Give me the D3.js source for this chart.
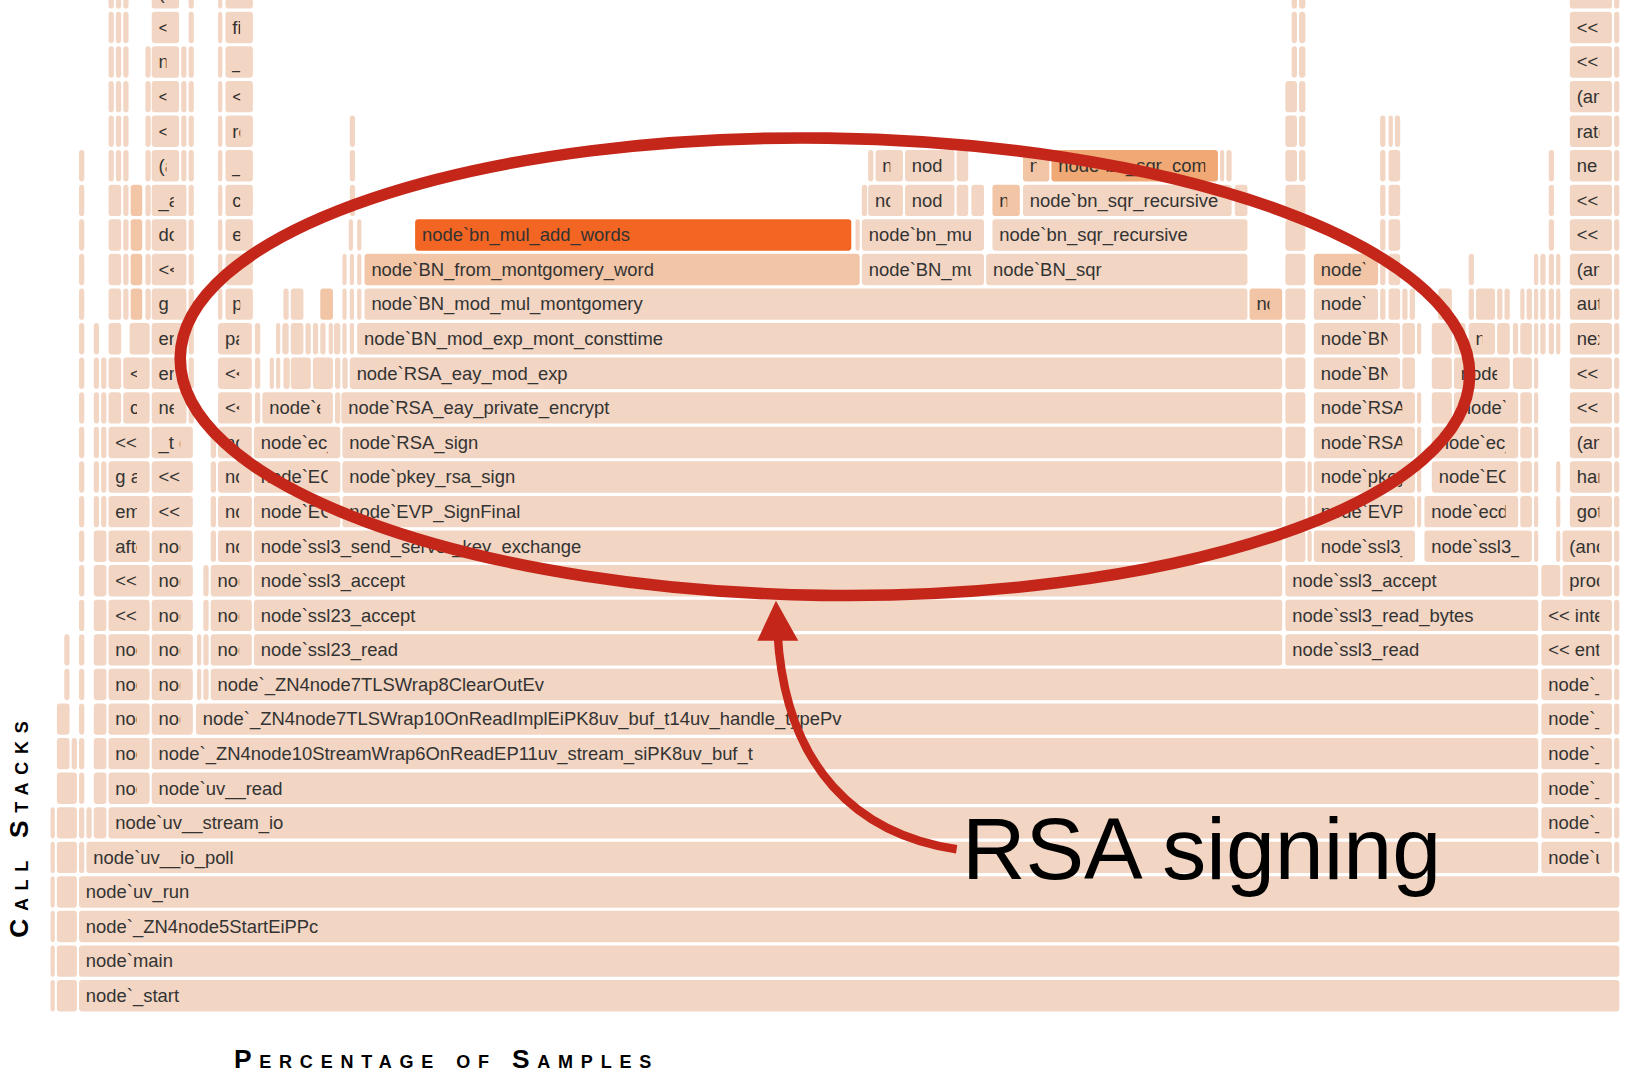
<!DOCTYPE html>
<html><head><meta charset="utf-8">
<script src="https://cdn.jsdelivr.net/npm/d3@7"></script>
<style>html,body{margin:0;padding:0;background:#fff;overflow:hidden}</style>
</head><body>
<script>
// Flame graph data: each level is one stack depth; entries are [function name, first sample, sample count, heat]
const TOTAL_SAMPLES = 1490;
const level0 = [["",1,4],["",7,19],["node`_start",28,1462]];
const level1 = [["",1,4],["",7,19],["node`main",28,1462]];
const level2 = [["",1,4],["",7,19],["node`_ZN4node5StartEiPPc",28,1462]];
const level3 = [["",1,4],["",7,19],["node`uv_run",28,1462]];
const level4 = [["",1,4],["",7,19],["",28,5],["node`uv__io_poll",35,1378],["node`uv__run_timers",1416,67],["",1485,5]];
const level5 = [["",1,4],["",7,19],["",28,5],["",35,5],["",42,12],["node`uv__stream_io",56,1357],["node`_ZN4node6TimerWrap9OnTimeout",1416,67],["",1485,5]];
const level6 = [["",7,19],["",28,5],["",42,12],["node`uv__write",56,39],["node`uv__read",97,1316],["node`_ZN4node12MakeCallback",1416,67],["",1485,5]];
const level7 = [["",7,12],["",21,5],["",28,5],["",42,12],["node`uv__write_req",56,39],["node`_ZN4node10StreamWrap6OnReadEP11uv_stream_siPK8uv_buf_t",97,1316],["node`_ZN2v88internal",1416,67],["",1485,5]];
const level8 = [["",7,12],["",28,5],["",42,12],["node`uv_try_write",56,39],["node`_ZN4node10StreamWrap",97,39],["node`_ZN4node7TLSWrap10OnReadImplEiPK8uv_buf_t14uv_handle_typePv",139,1274],["node`_ZN2v88internal9Execution",1416,67],["",1485,5]];
const level9 = [["",14,5],["",28,5],["",42,12],["node`uv_write2",56,39],["node`_ZN4node7TLSWrap",97,39],["",140,4],["",146,5],["node`_ZN4node7TLSWrap8ClearOutEv",153,1260],["node`_ZN2v88internal6Invoke",1416,67],["",1485,5]];
const level10 = [["",14,5],["",28,5],["",42,12],["node`uv__io_start",56,39],["node`_ZN4node7TLSWrap7ClearIn",97,39],["",140,4],["",146,5],["node`SSL_read",153,39],["node`ssl23_read",194,976],["node`ssl3_read",1173,240],["<< entry >>",1416,67],["",1485,5]];
const level11 = [["",28,5],["",42,12],["<< interpreted >>",56,39],["node`SSL_write",97,39],["",146,5],["node`ssl23_get_client_hello",153,39],["node`ssl23_accept",194,976],["node`ssl3_read_bytes",1173,240],["<< interpreted >>",1416,67],["",1485,5]];
const level12 = [["",28,5],["",42,12],["<< interpreted >>",56,39],["node`ssl3_write",97,39],["",146,5],["node`ssl3_accept",153,39],["node`ssl3_accept",194,976],["node`ssl3_accept",1173,240],["",1416,18],["process._tickCallback",1436,47],["",1485,5]];
const level13 = [["",28,5],["",42,12],["afterWrite",56,39],["node`ssl3_write_bytes",97,39],["",153,5],["node`ssl3_get_client_hello",160,32],["node`ssl3_send_server_key_exchange",194,976],["",1173,19],["",1194,4],["node`ssl3_get_client_key_exchange",1200,96],["node`ssl3_send_server_hello",1305,102],["",1409,4],["",1430,4],["(anonymous function)",1436,47],["",1485,5]];
const level14 = [["",28,5],["",42,5],["",49,5],["emit",56,39],["<< adaptor >>",97,39],["",153,5],["node`ssl3_choose_cipher",160,32],["node`ECDH_compute_key",194,82],["node`EVP_SignFinal",278,892],["",1173,19],["",1194,4],["node`EVP_PKEY_sign",1200,96],["",1298,4],["node`ecdh_compute_key",1305,89],["",1396,11],["",1409,4],["",1430,4],["goto",1443,40],["",1485,5]];
const level15 = [["",28,5],["",42,5],["",49,5],["g addListener",56,39],["<< adaptor >>",97,39],["",153,5],["node`ssl_get_new_session",160,32],["node`EC_POINT_mul",194,82],["node`pkey_rsa_sign",278,892],["",1173,19],["",1194,4],["node`pkey_rsa_sign",1200,96],["",1298,4],["node`EC_POINT_mul",1312,82],["",1396,11],["",1409,4],["",1430,4],["handshake",1443,40],["",1485,5]];
const level16 = [["",28,5],["",42,5],["",49,5],["<< adaptor >>",56,39],["_t onread",97,39],["",153,5],["node`ssl_session_dup",160,32],["node`ec_wNAF_mul",194,82],["node`RSA_sign",278,892],["",1173,19],["node`RSA_sign",1200,96],["",1298,4],["node`ec_wNAF_mul",1312,82],["",1396,11],["",1409,4],["(anonymous function)",1443,40],["",1485,5]];
const level17 = [["",28,5],["",42,5],["",49,5],["",56,12],["call",70,25],["nextTick",97,33],["",132,5],["<< adaptor >>",160,32],["",195,5],["node`ec_GFp_mont_field_mul",202,67],["",271,5],["node`RSA_eay_private_encrypt",277,893],["",1173,19],["node`RSA_eay_private_encrypt",1200,96],["",1298,4],["",1312,19],["node`ec_GFp_simple_dbl",1333,61],["",1396,11],["",1409,4],["<< adaptor >>",1443,40],["",1485,5]];
const level18 = [["",28,5],["",42,5],["",49,5],["",56,12],["<< adaptor >>",70,25],["error",97,33],["",132,5],["<< adaptor >>",160,32],["",195,5],["",209,4],["",215,4],["",222,6],["",229,19],["",250,19],["",271,5],["",278,5],["node`RSA_eay_mod_exp",285,885],["",1173,19],["node`BN_mod_exp_mont",1200,82],["",1284,12],["",1312,19],["node`ec_GFp_mont_field_sqr",1333,53],["",1389,18],["",1409,4],["<< adaptor >>",1443,40],["",1485,5]];
const level19 = [["",28,5],["",42,5],["",56,12],["",76,19],["error",97,33],["",132,5],["parse",160,32],["",195,5],["",215,4],["",221,6],["",229,12],["",243,5],["",250,5],["",257,5],["",265,4],["",270,6],["",278,4],["",285,4],["node`BN_mod_exp_mont_consttime",292,878],["",1173,19],["node`BN_mod_mul_montgomery",1200,82],["",1284,12],["",1298,4],["",1312,19],["",1333,11],["node`bn_mul_mont",1347,25],["",1374,12],["",1389,5],["",1396,11],["",1409,4],["",1415,5],["",1423,5],["",1430,4],["nextTick",1443,40],["",1485,5]];
const level20 = [["",28,5],["",56,12],["",70,5],["",77,11,1],["",91,5],["g onread",97,33],["",132,5],["",160,4],["push",167,26],["",222,5],["",229,12],["",257,12,1],["",278,4],["",285,4],["",292,4],["node`BN_mod_mul_montgomery",299,838],["node`bn_mul_mont",1139,31,1],["",1173,19],["node`BN_mul",1200,61],["",1263,5],["",1271,11],["",1284,5],["",1291,5],["",1318,13],["",1347,5],["",1354,18],["",1374,5],["",1381,5],["",1396,4],["",1402,5],["",1409,4],["",1415,5],["",1423,5],["",1430,4],["authorize",1443,40],["",1485,5]];
const level21 = [["",28,5],["",56,12],["",70,5],["",77,11,1],["",91,5],["<< adaptor >>",97,33],["",132,5],["",160,4],["",167,26],["",278,4],["",285,4],["",292,4],["node`BN_from_montgomery_word",299,470,1],["node`BN_mul",771,116],["node`BN_sqr",889,248],["",1173,19],["node`bn_mul_recursive",1200,61,1],["",1263,5],["",1271,11],["",1347,5],["",1409,4],["",1415,5],["",1423,5],["",1430,4],["(anonymous function)",1443,40],["",1485,5]];
const level22 = [["",28,5],["",56,12],["",70,5],["",77,11,1],["",91,5],["doWrite",97,33],["",132,5],["",160,4],["emit",167,26],["",284,4],["",292,4],["node`bn_mul_add_words",347,414,3],["",765,4],["node`bn_mul_recursive",771,116],["node`bn_sqr_recursive",895,242],["",1173,19],["",1263,5],["",1271,11],["",1423,5],["<< adaptor >>",1443,40],["",1485,5]];
const level23 = [["",28,5],["",56,12],["",70,5],["",77,11,1],["",91,5],["_addListener",97,33],["",132,5],["",160,4],["callback",167,26],["",285,5],["",771,5],["node`bn_mul_comba8",777,33],["node`bn_mul_comba8",812,47],["",861,11],["",875,12],["node`bn_sqr_comba8",895,26,1],["node`bn_sqr_recursive",924,198],["",1125,12],["",1173,19],["",1263,5],["",1271,11],["",1423,5],["<< adaptor >>",1443,40],["",1485,5]];
const level24 = [["",28,5],["",56,5],["",63,5],["",70,5],["",91,5],["(anonymous function)",97,26],["",125,5],["",132,5],["",160,4],["_write",167,26],["",285,5],["",777,5],["node`bn_mul_words",784,26],["node`bn_mul_comba8",812,47],["",861,11],["node`bn_sqr_words",924,25,1],["node`bn_sqr_comba8",951,158,2],["",1111,4],["",1117,5],["",1173,11],["",1186,6],["",1263,5],["",1271,11],["",1423,5],["newListener",1443,40],["",1485,5]];
const level25 = [["",56,5],["",63,5],["",70,5],["",91,5],["<",97,26],["",125,5],["",132,5],["",160,4],["readable",167,26],["",285,5],["",1173,11],["",1186,6],["",1263,5],["",1271,4],["",1277,5],["ratelimit",1443,40],["",1485,5]];
const level26 = [["",56,5],["",63,5],["",70,5],["",91,5],["<",97,26],["",125,5],["",132,5],["",160,4],["<",167,26],["",1173,11],["",1186,6],["(anonymous function)",1443,40],["",1485,5]];
const level27 = [["",56,5],["",63,5],["",70,5],["",91,5],["nextTick",97,26],["",125,5],["",132,5],["",160,4],["_read",167,26],["",1179,5],["",1186,6],["<< adaptor >>",1443,40],["",1485,5]];
const level28 = [["",56,5],["",63,5],["",70,5],["<",97,26],["",132,5],["",160,4],["fire",167,26],["",1179,5],["",1186,6],["<< adaptor >>",1443,40],["",1485,5]];
const level29 = [["",56,5],["",63,5],["",70,5],["(anonymous function)",97,26],["",132,5],["",160,4],["",167,26],["",1179,5],["",1186,6],["",1443,40],["",1485,5]];
const levels = [level0,level1,level2,level3,level4,level5,level6,level7,level8,level9,level10,level11,level12,level13,level14,level15,level16,level17,level18,level19,level20,level21,level22,level23,level24,level25,level26,level27,level28,level29];

const axisTitleX = "Percentage of Samples";
const axisTitleY = "Call Stacks";
const annotationText = "RSA signing";
const heatColors = ["#f2d5c2", "#f2c5a6", "#f0a874", "#f26522"];

const W = 1568, H = 1023;
const FONT = "'Liberation Sans', Arial, Helvetica, sans-serif";
const svg = d3.select("body").append("svg")
  .attr("width", 1652).attr("height", 1078)
  .attr("viewBox", `0 0 ${W} ${H}`);

const x = d3.scaleLinear().domain([0, TOTAL_SAMPLES]).range([47, 1537]);
const y = d3.scaleLinear().domain([0, 28]).range([945, 26]);
const rowH = 29.8;
const PAD_L = 6.5, PAD_R = 12;

const frames = levels.flatMap((lv, depth) => lv.map(([name, start, count, heat = 0], i) =>
  ({name, start, count, heat, depth, id: `f${depth}_${i}`})));
const fw = d => x(d.start + d.count) - x(d.start);

const defs = svg.append("defs");
const gFrames = svg.append("g");
gFrames.selectAll("rect.frame").data(frames).join("rect")
  .attr("class", "frame")
  .attr("x", d => x(d.start))
  .attr("y", d => y(d.depth) - rowH / 2)
  .attr("width", fw)
  .attr("height", rowH)
  .attr("rx", 3).attr("ry", 3)
  .attr("fill", d => heatColors[d.heat]);

const labeled = frames.filter(d => d.name && fw(d) > 18);
defs.selectAll("clipPath").data(labeled).join("clipPath")
  .attr("id", d => "c" + d.id)
  .append("rect")
  .attr("x", d => x(d.start))
  .attr("y", d => Math.max(0, y(d.depth) - rowH / 2))
  .attr("width", d => Math.max(0, fw(d) - PAD_R))
  .attr("height", rowH);

gFrames.selectAll("text.lbl").data(labeled).join("text")
  .attr("class", "lbl")
  .attr("clip-path", d => `url(#c${d.id})`)
  .attr("x", d => x(d.start) + PAD_L)
  .attr("y", d => y(d.depth) + 6)
  .attr("font-family", FONT)
  .attr("font-size", 17.5)
  .attr("fill", "#333")
  .text(d => d.name)
  .each(function (d) {
    // keep only the characters that can show inside the frame (last one may be partly clipped)
    const limit = fw(d) - PAD_L - PAD_R + 10;
    let s = d.name;
    while (s.length > 1 && this.getComputedTextLength() > limit) {
      s = s.slice(0, -1);
      this.textContent = s;
    }
  });

// Annotation: ellipse, arrow and label
const red = "#c4271a";
svg.append("ellipse")
  .attr("cx", 783).attr("cy", 348).attr("rx", 612).attr("ry", 217)
  .attr("transform", "rotate(0.8 783 348)")
  .attr("fill", "none").attr("stroke", red).attr("stroke-width", 11);
svg.append("path")
  .attr("d", "M908,806 C815,792 745,730 738,600")
  .attr("fill", "none").attr("stroke", red).attr("stroke-width", 8);
svg.append("path")
  .attr("d", "M736.5,570 L757.7,608 L718.8,608 Z")
  .attr("fill", red);
svg.append("text")
  .attr("x", 913).attr("y", 834)
  .attr("font-family", FONT).attr("font-size", 83.5).attr("fill", "#000")
  .text(annotationText);

// Axis titles
svg.append("text")
  .attr("x", 222).attr("y", 1014)
  .attr("font-family", FONT).attr("font-weight", "bold").attr("font-size", 25)
  .style("font-variant", "small-caps").attr("letter-spacing", 7.4).attr("fill", "#000")
  .text(axisTitleX);
svg.append("text")
  .attr("transform", "translate(27,890) rotate(-90)")
  .attr("font-family", FONT).attr("font-weight", "bold").attr("font-size", 25)
  .style("font-variant", "small-caps").attr("letter-spacing", 7.3).attr("fill", "#000")
  .text(axisTitleY);
</script>
</body></html>
